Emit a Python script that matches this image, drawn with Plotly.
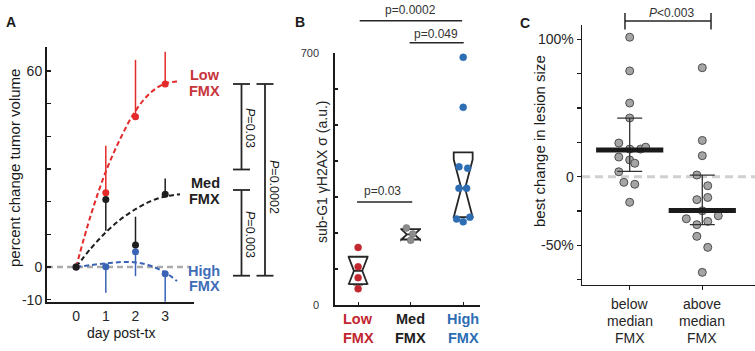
import plotly.graph_objects as go

W, H = 755, 351
FONT = "Liberation Sans, Arial, Helvetica, sans-serif"

# ---------------- Panel A data ----------------
days = [0, 1, 2, 3]
low_mean = [0, 22.7, 46.0, 56.0]
low_err_up = [0, 14.4, 17.4, 9.9]
med_mean = [0, 20.7, 6.7, 22.3]
med_err_up = [0, 0, 8.7, 4.8]
med_err_down = [0, 9.6, 0, 0]
high_mean = [0, 0.1, 4.7, -2.1]
high_err_down = [0, 8.0, 7.5, 8.5]

fit_days = [0, 0.5, 1, 1.5, 2, 2.5, 3, 3.5]
fit_low = [0, 16.0, 29.2, 39.5, 47.8, 53.3, 56.2, 56.8]
fit_med = [0, 5.7, 10.6, 14.6, 17.7, 20.1, 21.6, 22.3]
fit_days_high = [0, 0.5, 1, 1.5, 2, 2.5, 3, 3.4]
fit_high = [0, 0.6, 1.1, 1.5, 1.4, 0.4, -1.7, -4.3]

a_yticks = [-10, 0, 10, 20, 30, 40, 50, 60]
a_yticklabels = ["-10", "0", "", "", "", "", "", "60"]
a_groups = [("Low", "FMX"), ("Med", "FMX"), ("High", "FMX")]

# ---------------- Panel B data ----------------
b_groups = [("Low", "FMX"), ("Med", "FMX"), ("High", "FMX")]
b_low = [160, 106, 76, 45]
b_low_off = [0, 0, 0, 0]
b_med = [214, 197, 180]
b_med_off = [-0.08, 0.04, 0]
b_high = [688, 549, 384, 380, 324, 324, 244, 239, 231]
b_high_off = [0, 0, -0.08, 0.085, -0.08, 0.065, 0.127, -0.125, 0]
b_q1 = [58, 182, 244]
b_median = [95, 196, 324]
b_q3 = [134, 211, 424]
b_notch = [38, 14.5, 80]
b_yticks = [0, 100, 200, 300, 400, 500, 600, 700]
b_yticklabels = ["0", "", "", "", "", "", "", "700"]

# ---------------- Panel C data ----------------
c_cats = [("below", "median", "FMX"), ("above", "median", "FMX")]
c_below = [101.5, 77, 53.6, 42.7, 24.5, 20.1, 20.1, 21.5, 14.3, 12.2, 9.8, 3.6, -4.1, -5.5, -18.6]
c_below_off = [0, 0, 0, 0, -0.15, 0, 0.15, 0.22, -0.15, 0, 0.07, -0.15, -0.08, 0.07, 0]
c_above = [79.3, 26.4, 15.3, 1.2, -6.6, -15.1, -16.7, -24.8, -28.4, -30.6, -32.5, -34.9, -43.4, -51.4, -69.6]
c_above_off = [0, 0, 0, -0.075, 0.075, 0.075, -0.075, 0, 0.22, -0.22, 0.075, -0.075, -0.075, 0.075, 0]
c_median = [19.4, -24.5]
c_q1 = [3.9, -34.9]
c_q3 = [42.7, 1.2]
c_yticks = [-75, -50, -25, 0, 25, 50, 75, 100]
c_yticklabels = ["", "-50%", "", "0", "", "", "", "100%"]

RED = "#e42a2a"
RED_T = "#c7343b"
BLACK = "#1e1e1e"
BLUE = "#3b63b5"
BLUE_T = "#3f6db8"
B_RED = "#c2262f"
B_BLUE = "#2d6db3"


def px(x):
    return x / W


def py(y):
    return 1 - y / H


fig = go.Figure()

# ---- Panel A traces ----
for fx, fy, col in [(fit_days, fit_low, RED), (fit_days, fit_med, BLACK), (fit_days_high, fit_high, BLUE)]:
    fig.add_trace(go.Scatter(x=fx, y=fy, mode="lines", line=dict(color=col, width=2, dash="5px,3px", shape="spline"),
                             xaxis="x", yaxis="y", hoverinfo="skip", cliponaxis=False))

fig.add_trace(go.Scatter(x=days, y=low_mean, mode="markers", marker=dict(color=RED, size=7),
                         error_y=dict(type="data", symmetric=False, array=low_err_up,
                                      arrayminus=[0] * 4, color=RED, thickness=1.5, width=0),
                         xaxis="x", yaxis="y", cliponaxis=False))
fig.add_trace(go.Scatter(x=days, y=high_mean, mode="markers", marker=dict(color=BLUE, size=7),
                         error_y=dict(type="data", symmetric=False, array=[0] * 4,
                                      arrayminus=high_err_down, color=BLUE, thickness=1.5, width=0),
                         xaxis="x", yaxis="y", cliponaxis=False))
fig.add_trace(go.Scatter(x=days, y=med_mean, mode="markers", marker=dict(color=BLACK, size=7),
                         error_y=dict(type="data", symmetric=False, array=med_err_up,
                                      arrayminus=med_err_down, color=BLACK, thickness=1.5, width=0),
                         xaxis="x", yaxis="y", cliponaxis=False))

# ---- Panel B traces ----
box_nw = [0.28, 0.3, 0.4]
for i in range(3):
    fig.add_trace(go.Box(x=[i], q1=[b_q1[i]], median=[b_median[i]], q3=[b_q3[i]],
                         lowerfence=[b_q1[i]], upperfence=[b_q3[i]], notchspan=[b_notch[i]],
                         notched=True, notchwidth=box_nw[i], width=0.36, boxpoints=False,
                         fillcolor="rgba(0,0,0,0)", line=dict(color="#262626", width=1.8),
                         xaxis="x2", yaxis="y2", hoverinfo="skip"))

for vals, offs, idx, col, lc in [(b_low, b_low_off, 0, B_RED, B_RED),
                                 (b_med, b_med_off, 1, "#8c8c8c", "#6a6a6a"),
                                 (b_high, b_high_off, 2, B_BLUE, B_BLUE)]:
    fig.add_trace(go.Scatter(x=[idx + o for o in offs], y=vals, mode="markers",
                             marker=dict(color=col, size=7, line=dict(color=lc, width=0.5)),
                             xaxis="x2", yaxis="y2", cliponaxis=False))

# ---- Panel C traces ----
for vals, offs, idx in [(c_below, c_below_off, 0), (c_above, c_above_off, 1)]:
    fig.add_trace(go.Scatter(x=[idx + o for o in offs], y=vals, mode="markers",
                             marker=dict(color="#a5a5a5", size=8, line=dict(color="#4d4d4d", width=1)),
                             xaxis="x3", yaxis="y3", cliponaxis=False))

fig.add_trace(go.Scatter(x=[0, 1], y=c_median, mode="markers",
                         marker=dict(symbol="line-ew", size=48, color="#1a1a1a",
                                     line=dict(color="#1a1a1a", width=5)),
                         error_y=dict(type="data", symmetric=False,
                                      array=[q3 - m for q3, m in zip(c_q3, c_median)],
                                      arrayminus=[m - q1 for q1, m in zip(c_q1, c_median)],
                                      color="#333333", thickness=1.3, width=12.5),
                         xaxis="x3", yaxis="y3", cliponaxis=False))

# ---------------- Layout ----------------
axis_common = dict(showgrid=False, zeroline=False, showline=True, linecolor="#1a1a1a", automargin=False,
                   tickcolor="#1a1a1a", tickfont=dict(family=FONT, color="#262626"))

shapes = []
annotations = []

# Panel A zero line
shapes.append(dict(type="line", xref="x", yref="y", x0=-0.98, x1=3.84, y0=0, y1=0,
                   line=dict(color="#ababab", width=2.5, dash="6px,4px"), layer="below"))


def vbracket(x, y0, y1, half):
    shapes.append(dict(type="line", xref="paper", yref="paper", x0=px(x), x1=px(x), y0=py(y0), y1=py(y1),
                       line=dict(color="#262626", width=1.8)))
    for yy in (y0, y1):
        shapes.append(dict(type="line", xref="paper", yref="paper", x0=px(x - half), x1=px(x + half),
                           y0=py(yy), y1=py(yy), line=dict(color="#262626", width=1.8)))


vbracket(241.5, 84, 169.5, 8.5)
vbracket(241.5, 190, 275.7, 8.5)
vbracket(265, 84, 275.7, 8.5)

# Panel B significance lines
shapes.append(dict(type="line", xref="x2", yref="paper", x0=0.03, x1=1.98, y0=py(20.7), y1=py(20.7),
                   line=dict(color="#262626", width=1.6)))
shapes.append(dict(type="line", xref="x2", yref="paper", x0=0.98, x1=2.01, y0=py(42.7), y1=py(42.7),
                   line=dict(color="#262626", width=1.6)))
shapes.append(dict(type="line", xref="x2", yref="paper", x0=-0.02, x1=1.03, y0=py(202), y1=py(202),
                   line=dict(color="#262626", width=1.6)))

# Panel C zero line and bracket
shapes.append(dict(type="line", xref="x3", yref="y3", x0=-0.657, x1=1.726, y0=0, y1=0,
                   line=dict(color="#d0d0d0", width=3, dash="8px,5px"), layer="below"))
shapes.append(dict(type="line", xref="x3", yref="paper", x0=-0.065, x1=1.12, y0=py(21), y1=py(21),
                   line=dict(color="#262626", width=1.5)))
for xx in (-0.065, 1.12):
    shapes.append(dict(type="line", xref="x3", yref="paper", x0=xx, x1=xx, y0=py(13), y1=py(29.5),
                       line=dict(color="#262626", width=1.5)))


def ann(text, x, y, size=14, color="#1a1a1a", angle=0, xanchor="center", bold=False, xref="paper"):
    if bold:
        text = "<b>" + text + "</b>"
    annotations.append(dict(text=text, x=px(x) if xref == "paper" else x, y=py(y), xref=xref, yref="paper",
                            showarrow=False, font=dict(family=FONT, size=size, color=color), textangle=angle,
                            xanchor=xanchor, yanchor="middle"))


# panel letters
ann("A", 11, 22, 14, bold=True)
ann("B", 300, 22.5, 14, bold=True)
ann("C", 525, 23, 14, bold=True)

# Panel A text
ann("percent change tumor volume", 14, 168, 15, angle=-90)
ann("day post-tx", 121, 333, 14)
for (l1, l2), yc, col in zip(a_groups, [75, 183, 270.5], [RED_T, BLACK, BLUE_T]):
    ann(l1, 221.5, yc, 14.5, col, xanchor="right", bold=True)
    ann(l2, 221.5, yc + 15.5, 14.5, col, xanchor="right", bold=True)
ann("<i>P</i>=0.03", 250, 128, 12.5, angle=90)
ann("<i>P</i>=0.003", 250, 234, 12.5, angle=90)
ann("<i>P</i>=0.0002", 274, 187, 12.5, angle=90)

# Panel B text
ann("sub-G1 γH2AX σ (a.u.)", 322, 172, 14, "#262626", angle=-90)
ann("p=0.0002", 410, 10, 12, "#333333")
ann("p=0.049", 435.5, 33.5, 12, "#333333")
ann("p=0.03", 383, 191, 12, "#333333")
for i, ((l1, l2), col) in enumerate(zip(b_groups, [B_RED, BLACK, B_BLUE])):
    ann(l1, i, 319, 14.5, col, bold=True, xref="x2")
    ann(l2, i, 338, 14.5, col, bold=True, xref="x2")

# Panel C text
ann("best change in lesion size", 539, 141, 15, angle=-90)
ann("<i>P</i><0.003", 671, 12.5, 12, "#333333")
for i, lines in enumerate(c_cats):
    for line, yc in zip(lines, [304, 320.5, 338]):
        ann(line, i, yc, 14, "#262626", xref="x3")

fig.update_layout(
    width=W, height=H, margin=dict(l=0, r=0, t=0, b=0, autoexpand=False),
    paper_bgcolor="white", plot_bgcolor="white", showlegend=False, boxmode="overlay",
    font=dict(family=FONT, color="#1a1a1a"),
    xaxis=dict(axis_common, domain=[px(47), px(194)], range=[-0.98, 3.97], linewidth=2, ticks="",
               tickvals=days, ticktext=[str(d) for d in days], anchor="y",
               tickfont=dict(family=FONT, size=14, color="#262626")),
    yaxis=dict(axis_common, domain=[py(302), py(47)], range=[-10.71, 67.34], linewidth=2, ticks="inside",
               ticklen=4, tickwidth=1.5, tickvals=a_yticks, ticktext=a_yticklabels, anchor="x",
               tickfont=dict(family=FONT, size=14, color="#262626")),
    xaxis2=dict(axis_common, domain=[px(335), px(480)], range=[-0.44, 2.32], linewidth=1.8, ticks="inside",
                ticklen=3, tickwidth=1.2, tickvals=[0, 1, 2], showticklabels=False, anchor="y2"),
    yaxis2=dict(axis_common, domain=[py(305), py(53)], range=[0, 700], linewidth=1.8, ticks="inside",
                ticklen=3, tickwidth=1.2, tickvals=b_yticks, ticktext=b_yticklabels, anchor="x2",
                ticklabelstandoff=12, tickfont=dict(family=FONT, size=11, color="#333333")),
    xaxis3=dict(axis_common, domain=[px(582), px(755)], range=[-0.657, 1.726], linewidth=1.4, ticks="outside",
                ticklen=4, tickwidth=1.2, tickvals=[0, 1], showticklabels=False, anchor="y3"),
    yaxis3=dict(axis_common, domain=[py(285), py(25)], range=[-78.8, 110.4], linewidth=1.4, ticks="outside",
                ticklen=4, tickwidth=1.2, tickvals=c_yticks, ticktext=c_yticklabels, anchor="x3",
                tickfont=dict(family=FONT, size=14, color="#262626")),
    shapes=shapes, annotations=annotations,
)

fig.write_html("out.html", config={"displayModeBar": False, "staticPlot": True},
               post_script="document.body.style.margin='0';document.body.style.overflow='hidden';")
